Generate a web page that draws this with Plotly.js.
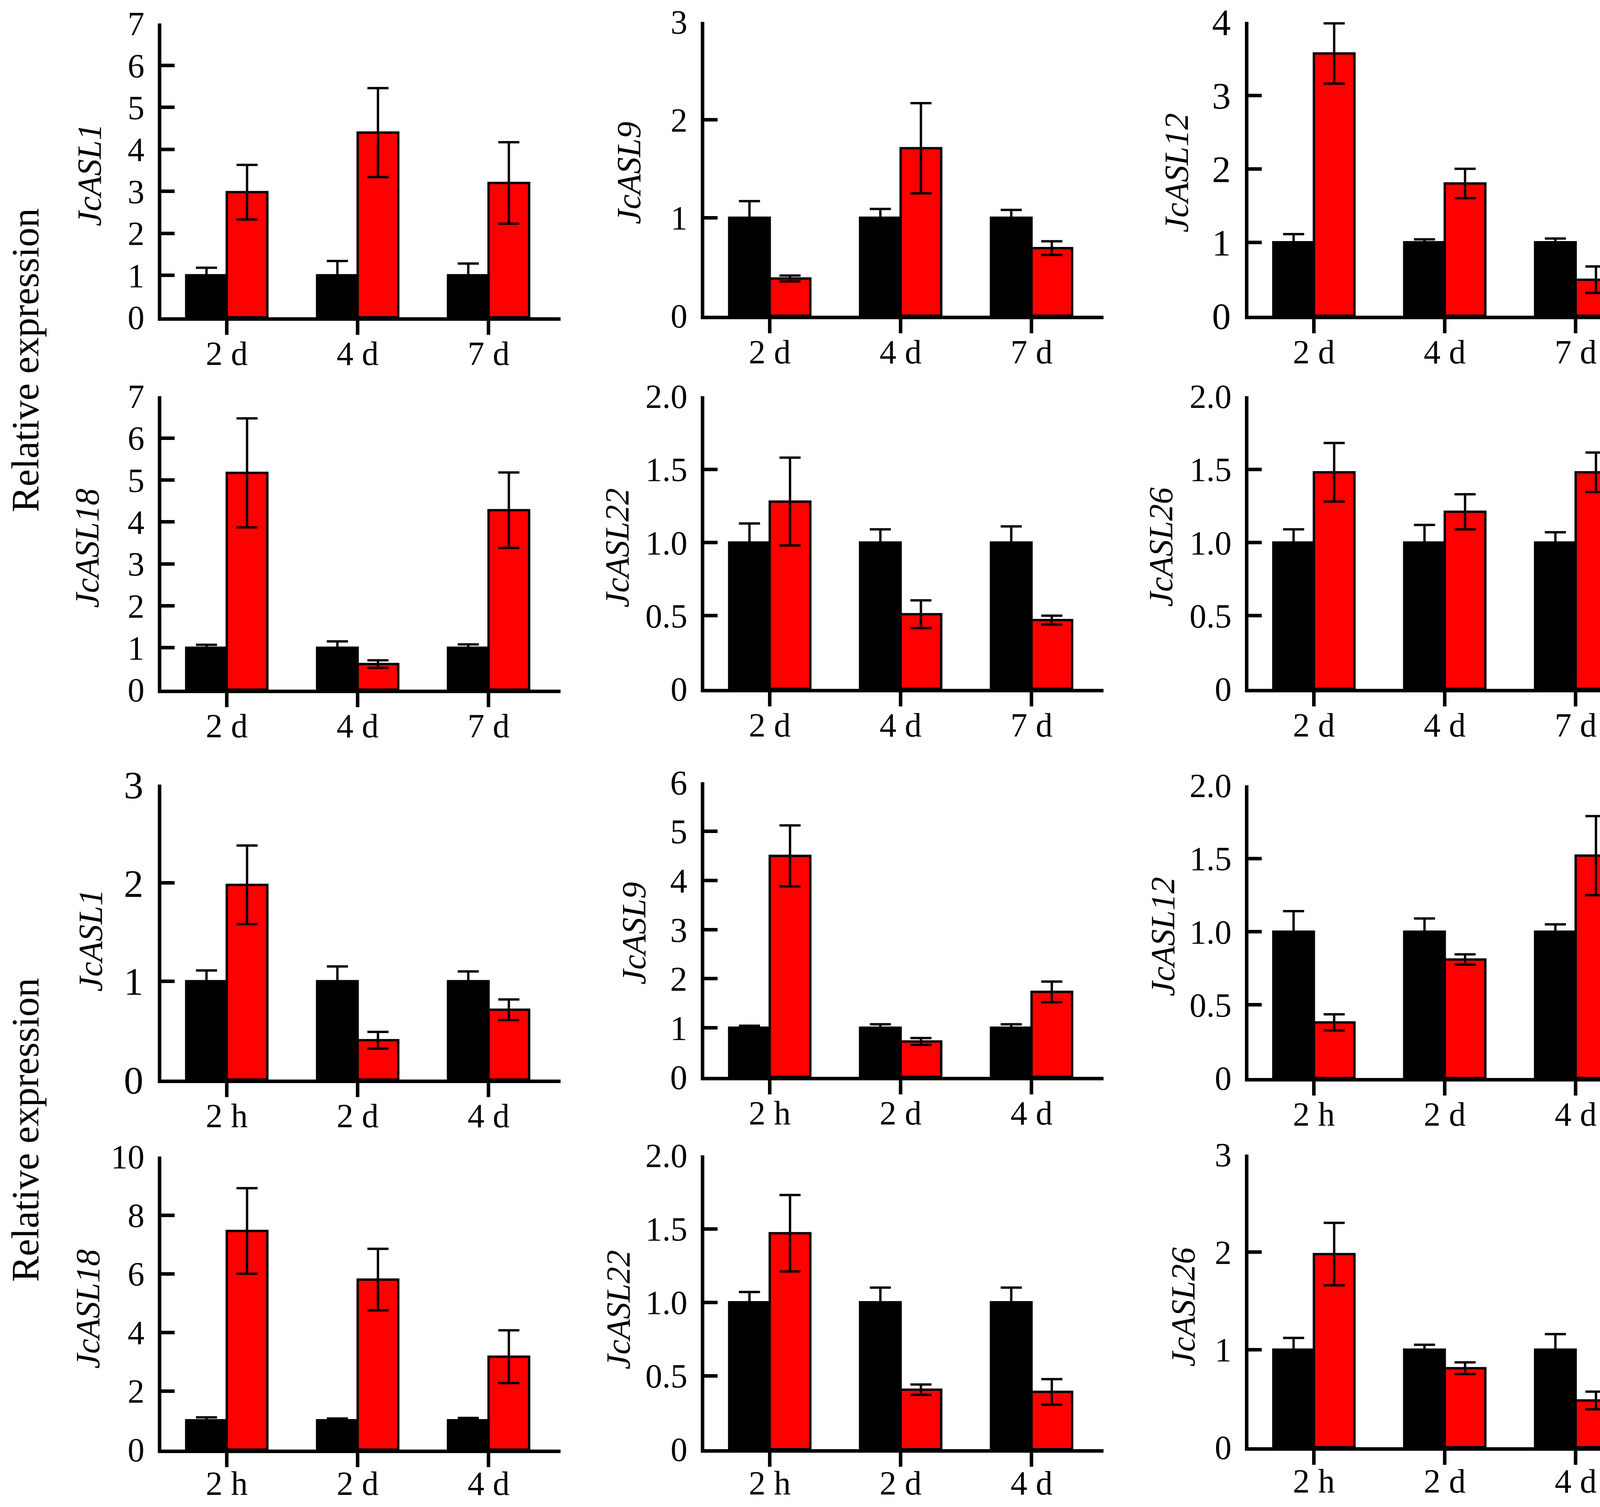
<!DOCTYPE html>
<html>
<head>
<meta charset="utf-8">
<script src="https://cdn.plot.ly/plotly-3.0.1.min.js"></script>
<style>html,body{margin:0;padding:0;background:#fff;overflow:hidden;}#chart{width:4222px;height:3857px;}</style>
</head>
<body>
<div id="chart"></div>
<script>
// ---- categories ----
const catsDays = ['2 d', '4 d', '7 d'];
const catsHours = ['2 h', '2 d', '4 d'];

// ---- gene labels per panel ----
const geneNames = ['JcASL1', 'JcASL9', 'JcASL12', 'JcASL18', 'JcASL22', 'JcASL26',
                   'JcASL1', 'JcASL9', 'JcASL12', 'JcASL18', 'JcASL22', 'JcASL26'];

// ---- control (black) means ----
const ctrlMean = [1, 1, 1];

// ---- panel data: control error, treatment mean, treatment error ----
const p1CtrlErr = [0.18, 0.34, 0.28];
const p1Trt     = [2.98, 4.40, 3.20];
const p1TrtErr  = [0.65, 1.06, 0.97];

const p2CtrlErr = [0.17, 0.09, 0.08];
const p2Trt     = [0.38, 1.71, 0.69];
const p2TrtErr  = [0.03, 0.46, 0.07];

const p3CtrlErr = [0.11, 0.04, 0.05];
const p3Trt     = [3.57, 1.80, 0.49];
const p3TrtErr  = [0.41, 0.20, 0.18];

const p4CtrlErr = [0.07, 0.15, 0.08];
const p4Trt     = [5.17, 0.61, 4.28];
const p4TrtErr  = [1.30, 0.09, 0.90];

const p5CtrlErr = [0.13, 0.09, 0.11];
const p5Trt     = [1.28, 0.51, 0.47];
const p5TrtErr  = [0.30, 0.095, 0.03];

const p6CtrlErr = [0.09, 0.12, 0.07];
const p6Trt     = [1.48, 1.21, 1.48];
const p6TrtErr  = [0.20, 0.12, 0.135];

const p7CtrlErr = [0.11, 0.15, 0.10];
const p7Trt     = [1.98, 0.40, 0.71];
const p7TrtErr  = [0.40, 0.085, 0.105];

const p8CtrlErr = [0.04, 0.07, 0.07];
const p8Trt     = [4.50, 0.72, 1.73];
const p8TrtErr  = [0.62, 0.07, 0.21];

const p9CtrlErr = [0.14, 0.09, 0.05];
const p9Trt     = [0.38, 0.81, 1.52];
const p9TrtErr  = [0.055, 0.035, 0.27];

const p10CtrlErr = [0.10, 0.06, 0.08];
const p10Trt     = [7.46, 5.80, 3.17];
const p10TrtErr  = [1.46, 1.05, 0.90];

const p11CtrlErr = [0.07, 0.10, 0.10];
const p11Trt     = [1.47, 0.405, 0.39];
const p11TrtErr  = [0.26, 0.035, 0.087];

const p12CtrlErr = [0.12, 0.05, 0.16];
const p12Trt     = [1.98, 0.81, 0.48];
const p12TrtErr  = [0.32, 0.06, 0.09];

// ---- y-axis tick values / labels ----
const ticks0to7 = [0, 1, 2, 3, 4, 5, 6, 7];
const ticks0to3 = [0, 1, 2, 3];
const ticks0to4 = [0, 1, 2, 3, 4];
const ticks0to6 = [0, 1, 2, 3, 4, 5, 6];
const ticksHalf = [0, 0.5, 1.0, 1.5, 2.0];
const ticksHalfText = ['0', '0.5', '1.0', '1.5', '2.0'];
const ticks0to10 = [0, 2, 4, 6, 8, 10];

// ---- assemble panels ----
const panels = [
  {cats: catsDays,  ce: p1CtrlErr,  t: p1Trt,  te: p1TrtErr,  tv: ticks0to7,  tt: ticks0to7.map(String)},
  {cats: catsDays,  ce: p2CtrlErr,  t: p2Trt,  te: p2TrtErr,  tv: ticks0to3,  tt: ticks0to3.map(String)},
  {cats: catsDays,  ce: p3CtrlErr,  t: p3Trt,  te: p3TrtErr,  tv: ticks0to4,  tt: ticks0to4.map(String)},
  {cats: catsDays,  ce: p4CtrlErr,  t: p4Trt,  te: p4TrtErr,  tv: ticks0to7,  tt: ticks0to7.map(String)},
  {cats: catsDays,  ce: p5CtrlErr,  t: p5Trt,  te: p5TrtErr,  tv: ticksHalf,  tt: ticksHalfText},
  {cats: catsDays,  ce: p6CtrlErr,  t: p6Trt,  te: p6TrtErr,  tv: ticksHalf,  tt: ticksHalfText},
  {cats: catsHours, ce: p7CtrlErr,  t: p7Trt,  te: p7TrtErr,  tv: ticks0to3,  tt: ticks0to3.map(String)},
  {cats: catsHours, ce: p8CtrlErr,  t: p8Trt,  te: p8TrtErr,  tv: ticks0to6,  tt: ticks0to6.map(String)},
  {cats: catsHours, ce: p9CtrlErr,  t: p9Trt,  te: p9TrtErr,  tv: ticksHalf,  tt: ticksHalfText},
  {cats: catsHours, ce: p10CtrlErr, t: p10Trt, te: p10TrtErr, tv: ticks0to10, tt: ticks0to10.map(String)},
  {cats: catsHours, ce: p11CtrlErr, t: p11Trt, te: p11TrtErr, tv: ticksHalf,  tt: ticksHalfText},
  {cats: catsHours, ce: p12CtrlErr, t: p12Trt, te: p12TrtErr, tv: ticks0to3,  tt: ticks0to3.map(String)}
];

// ---- geometry (pixels) ----
const W = 4222, H = 3857;
const colLeft = [413, 1803, 3196];
const axisW = 1022;
const rowTop = [[60, 56, 56], [1014, 1014, 1014], [2008, 2002, 2010], [2960, 2957, 2955]];
const rowBot = [[812, 808, 808], [1765, 1763, 1763], [2763, 2756, 2759], [3710, 3709, 3704]];
const xLabelShift = [-26, -26, -26, -32];
const titlePos = [[229, 448], [1610, 443], [3012, 442],
                  [223, 1403], [1580, 1402], [2972, 1400],
                  [232, 2407], [1623, 2389], [2977, 2397],
                  [225, 3350], [1583, 3352], [3029, 3345]];
const yTickSize = [86, 86, 96, 86, 86, 86, 100, 88, 86, 86, 86, 86];

const FONT = 'Liberation Serif, Times New Roman, serif';
const traces = [];
const layout = {
  width: W, height: H,
  margin: {l: 0, r: 0, t: 0, b: 0},
  paper_bgcolor: '#ffffff', plot_bgcolor: 'rgba(0,0,0,0)',
  showlegend: false,
  barmode: 'group', bargap: 0.38, bargroupgap: 0,
  font: {family: FONT, size: 84, color: '#000'},
  annotations: []
};

panels.forEach((p, i) => {
  const r = Math.floor(i / 3), c = i % 3;
  const sfx = i === 0 ? '' : String(i + 1);
  const xa = 'x' + sfx, ya = 'y' + sfx;
  traces.push({
    type: 'bar', x: p.cats, y: ctrlMean, xaxis: xa, yaxis: ya,
    marker: {color: '#000000', line: {color: '#000000', width: 6}},
    error_y: {type: 'data', array: p.ce, visible: true, color: '#000000', thickness: 6, width: 27},
    hoverinfo: 'skip'
  });
  traces.push({
    type: 'bar', x: p.cats, y: p.t, xaxis: xa, yaxis: ya,
    marker: {color: '#FF0000', line: {color: '#000000', width: 6}},
    error_y: {type: 'data', array: p.te, visible: true, color: '#000000', thickness: 6, width: 27},
    hoverinfo: 'skip'
  });
  const x0 = colLeft[c] / W, x1 = (colLeft[c] + axisW) / W;
  const y0 = 1 - rowBot[r][c] / H, y1 = 1 - rowTop[r][c] / H;
  const ymax = p.tv[p.tv.length - 1];
  layout['xaxis' + sfx] = {
    domain: [x0, x1], anchor: ya, type: 'category',
    range: [-0.5, 2.55],
    showline: true, linecolor: '#000', linewidth: 9,
    ticks: 'outside', ticklen: 36, tickwidth: 9, tickcolor: '#000',
    ticklabelstandoff: xLabelShift[r], ticklabeloverflow: 'allow',
    showgrid: false, zeroline: false, fixedrange: true,
    tickfont: {family: FONT, size: 86, color: '#000'}
  };
  layout['yaxis' + sfx] = {
    domain: [y0, y1], anchor: xa,
    range: [0, ymax],
    tickvals: p.tv, ticktext: p.tt,
    showline: true, linecolor: '#000', linewidth: 9,
    ticks: 'inside', ticklen: 34, tickwidth: 9, tickcolor: '#000',
    showgrid: false, zeroline: false, fixedrange: true,
    ticklabelstandoff: 17, ticklabeloverflow: 'allow',
    tickfont: {family: FONT, size: yTickSize[i], color: '#000'}
  };
  layout.annotations.push({
    xref: 'paper', yref: 'paper',
    x: titlePos[i][0] / W, y: 1 - titlePos[i][1] / H,
    xanchor: 'center', yanchor: 'middle',
    text: '<i>' + geneNames[i] + '</i>', textangle: -90, showarrow: false,
    font: {family: FONT, size: 86, color: '#000'}
  });
});

// shared "Relative expression" labels
[922, 2892].forEach(py => {
  layout.annotations.push({
    xref: 'paper', yref: 'paper', x: 64 / W, y: 1 - py / H,
    xanchor: 'center', yanchor: 'middle',
    text: 'Relative expression', textangle: -90, showarrow: false,
    font: {family: FONT, size: 99, color: '#000'}
  });
});

Plotly.newPlot('chart', traces, layout, {displayModeBar: false, staticPlot: true});
</script>
</body>
</html>
